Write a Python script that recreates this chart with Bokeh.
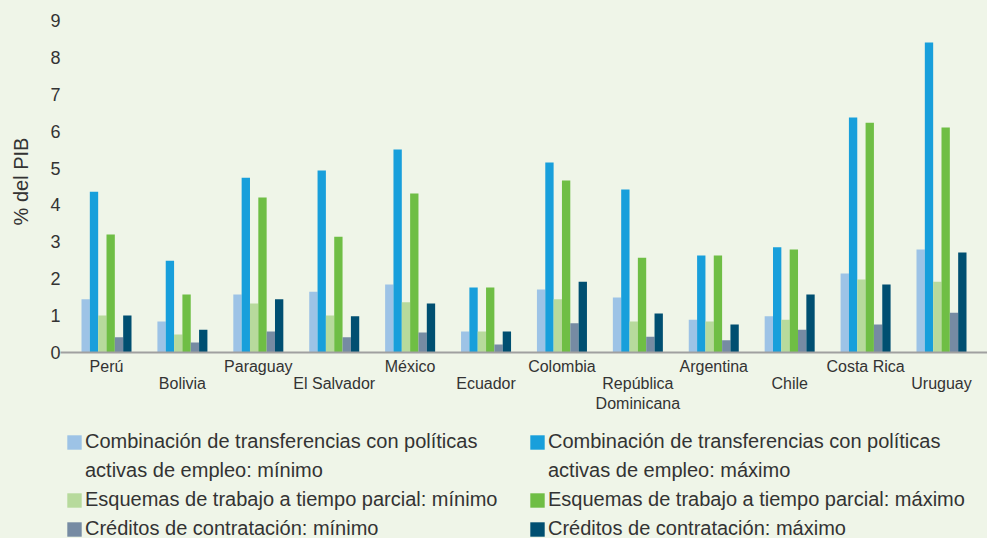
from bokeh.plotting import figure
from bokeh.layouts import column
from bokeh.models import FixedTicker, LinearAxis, Legend, LegendItem, Range1d
from bokeh.embed import file_html
from bokeh.resources import INLINE

# Countries in display order
countries = ["Perú", "Bolivia", "Paraguay", "El Salvador", "México", "Ecuador",
             "Colombia", "República Dominicana", "Argentina", "Chile",
             "Costa Rica", "Uruguay"]
country_labels = ["Perú", "Bolivia", "Paraguay", "El Salvador", "México", "Ecuador",
                  "Colombia", "República\nDominicana", "Argentina", "Chile",
                  "Costa Rica", "Uruguay"]

# Cost estimates, % of GDP
transf_min = [1.44, 0.84, 1.57, 1.65, 1.84, 0.57, 1.71, 1.49, 0.89, 0.98, 2.14, 2.79]
transf_max = [4.36, 2.49, 4.74, 4.93, 5.50, 1.76, 5.15, 4.42, 2.63, 2.85, 6.37, 8.40]
parcial_min = [1.00, 0.49, 1.33, 1.00, 1.36, 0.57, 1.44, 0.84, 0.84, 0.89, 1.98, 1.92]
parcial_max = [3.20, 1.57, 4.20, 3.14, 4.31, 1.76, 4.66, 2.57, 2.63, 2.79, 6.23, 6.10]
cred_min = [0.41, 0.27, 0.57, 0.41, 0.54, 0.22, 0.79, 0.43, 0.33, 0.62, 0.76, 1.08]
cred_max = [1.00, 0.62, 1.44, 0.98, 1.33, 0.57, 1.92, 1.06, 0.76, 1.57, 1.84, 2.71]

# Legend labels; the long ones wrap onto a second line
series_names = [
    ["Combinación de transferencias con políticas", "activas de empleo: mínimo"],
    ["Combinación de transferencias con políticas", "activas de empleo: máximo"],
    ["Esquemas de trabajo a tiempo parcial: mínimo"],
    ["Esquemas de trabajo a tiempo parcial: máximo"],
    ["Créditos de contratación: mínimo"],
    ["Créditos de contratación: máximo"],
]
series_values = [transf_min, transf_max, parcial_min, parcial_max, cred_min, cred_max]
series_colors = ["#9DC3E6", "#189FDB", "#B7DA9C", "#6FBE45", "#768BA3", "#004F71"]

y_ticks = list(range(10))

BG = "#EFF5E8"
TXT = "#333333"

# ---- main bar chart ----
p = figure(width=987, height=415, output_backend="svg", toolbar_location=None,
           x_range=Range1d(-0.606, 11.606), y_range=Range1d(0, 9.27),
           min_border_left=60, min_border_right=0, min_border_top=10,
           min_border_bottom=63)
p.background_fill_color = BG
p.border_fill_color = BG
p.outline_line_color = None
p.xgrid.visible = False
p.ygrid.visible = False

bar_w = 0.1098
for k, (vals, col) in enumerate(zip(series_values, series_colors)):
    xs = [i + (k - 2.5) * bar_w for i in range(len(countries))]
    p.vbar(x=xs, top=vals, bottom=0, width=bar_w, fill_color=col, line_color=None)

# Y axis
ya = p.yaxis[0]
ya.ticker = FixedTicker(ticks=y_ticks)
ya.axis_line_color = None
ya.major_tick_line_color = None
ya.minor_tick_line_color = None
ya.major_tick_out = 0
ya.major_label_standoff = 0
ya.major_label_text_font = "Liberation Sans"
ya.major_label_text_font_size = "18px"
ya.major_label_text_color = TXT
ya.axis_label = "% del PIB"
ya.axis_label_text_font = "Liberation Sans"
ya.axis_label_text_font_size = "20px"
ya.axis_label_text_font_style = "normal"
ya.axis_label_text_color = TXT
ya.axis_label_standoff = 15

# X axis: two staggered rows of country names
even = [i for i in range(len(countries)) if i % 2 == 0]
odd = [i for i in range(len(countries)) if i % 2 == 1]

xa = p.xaxis[0]
xa.ticker = FixedTicker(ticks=even)
xa.major_label_overrides = {i: country_labels[i] for i in even}
xa.axis_line_color = "#A0A0A0"
xa.axis_line_width = 2
xa.major_tick_line_color = None
xa.minor_tick_line_color = None
xa.major_tick_out = 0
xa.major_label_standoff = 5
xa.major_label_text_font = "Liberation Sans"
xa.major_label_text_font_size = "16px"
xa.major_label_text_color = TXT

xb = LinearAxis(ticker=FixedTicker(ticks=odd),
                major_label_overrides={i: country_labels[i] for i in odd})
xb.axis_line_color = None
xb.major_tick_line_color = None
xb.minor_tick_line_color = None
xb.major_tick_out = 0
xb.major_label_standoff = -3
xb.major_label_text_font = "Liberation Sans"
xb.major_label_text_font_size = "16px"
xb.major_label_text_color = TXT
p.add_layout(xb, "below")

# ---- legend strip ----
lg = figure(width=987, height=123, output_backend="svg", toolbar_location=None,
            x_range=Range1d(0, 1), y_range=Range1d(0, 1),
            x_axis_location=None, y_axis_location=None,
            min_border_left=0, min_border_right=0, min_border_top=0,
            min_border_bottom=0)
lg.background_fill_color = BG
lg.border_fill_color = BG
lg.outline_line_color = None
lg.xgrid.visible = False
lg.ygrid.visible = False

# zero-height keys: a coloured one per series, plus a blank one for wrapped lines
keys = []
for col in series_colors:
    keys.append(lg.vbar(x=[0], top=[0], bottom=[0], width=0.0, fill_color=col,
                        line_color=None))
blank = lg.vbar(x=[0], top=[0], bottom=[0], width=0.0, fill_alpha=0,
                line_color=None)

def legend_items(series):
    out = []
    for k in series:
        lines = series_names[k]
        out.append(LegendItem(label=lines[0], renderers=[keys[k]]))
        for extra in lines[1:]:
            out.append(LegendItem(label=extra, renderers=[blank]))
    return out

items = legend_items([0, 2, 4]) + legend_items([1, 3, 5])
legend = Legend(items=items, ncols=2, location=(5, -2),
                label_text_font="Liberation Sans", label_text_font_size="20px",
                label_text_color=TXT,
                label_width=437, glyph_width=18, glyph_height=18,
                label_standoff=2, spacing=6, padding=0, margin=0,
                background_fill_alpha=0, border_line_color=None)
lg.add_layout(legend, "center")

layout = column(p, lg, spacing=0)
layout.styles = {"background-color": BG}

open("out.html", "w").write(file_html(layout, INLINE))
